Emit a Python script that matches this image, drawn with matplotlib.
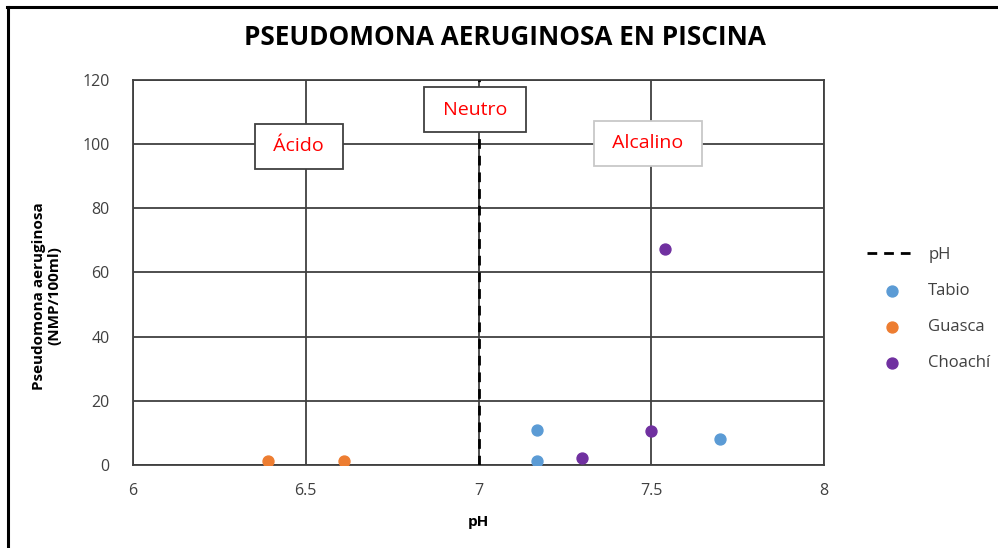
import matplotlib.pyplot as plt
from matplotlib.lines import Line2D

plt.rcParams['font.family'] = ['Open Sans', 'DejaVu Sans']

# datos
tabio_ph = [7.17, 7.17, 7.70]
tabio_pseudo = [11, 1.3, 8]
guasca_ph = [6.39, 6.61]
guasca_pseudo = [1.3, 1.3]
choachi_ph = [7.30, 7.50, 7.54]
choachi_pseudo = [2.2, 10.6, 67.3]
neutro_ph = [7, 7]
neutro_y = [0, 120]

zonas = ['Ácido', 'Neutro', 'Alcalino']
zonas_x = [6.48, 6.99, 7.49]
zonas_y = [99.3, 110.7, 100.2]
zonas_borde = ['#404040', '#404040', '#c8c8c8']

fig = plt.figure(figsize=(9.98, 5.48), dpi=100)
ax = fig.add_axes([0.1333, 0.1515, 0.6924, 0.7026])

ax.plot(neutro_ph, neutro_y, color='black', linestyle=(0, (3.5, 2.5)), linewidth=2, label='pH', zorder=3)
ax.scatter(tabio_ph, tabio_pseudo, s=62, color='#5b9bd5', label='Tabio', zorder=4)
ax.scatter(guasca_ph, guasca_pseudo, s=62, color='#ed7d31', label='Guasca', zorder=4)
ax.scatter(choachi_ph, choachi_pseudo, s=62, color='#7030a0', label='Choachí', zorder=4)

for txt, x, y, c in zip(zonas, zonas_x, zonas_y, zonas_borde):
    ax.text(x, y, ' ' + txt + ' ', color='red', fontsize=14, ha='center', va='center', zorder=5,
            bbox=dict(boxstyle='square,pad=0.7', facecolor='white', edgecolor=c, linewidth=1.3))

ax.set_xlim(6, 8)
ax.set_ylim(0, 120)
ax.set_xticks([6, 6.5, 7, 7.5, 8])
ax.set_xticklabels(['6', '6.5', '7', '7.5', '8'])
ax.set_yticks(range(0, 121, 20))
ax.grid(True, color='#404040', linewidth=1.3)
ax.set_axisbelow(True)
for s in ax.spines.values():
    s.set_color('#404040')
    s.set_linewidth(1.3)
ax.tick_params(length=0, labelsize=11.5, colors='#404040')
ax.tick_params(axis='y', pad=17)
ax.tick_params(axis='x', pad=13)

ax.set_xlabel('pH', fontsize=11, fontweight='bold', va='center')
ax.xaxis.set_label_coords(0.5, -0.148)
ax.set_ylabel('Pseudomona aeruginosa\n(NMP/100ml)', fontsize=11, fontweight='bold', va='center')
ax.yaxis.set_label_coords(-0.125, 0.439)

fig.text(0.506, 0.932, 'PSEUDOMONA AERUGINOSA EN PISCINA', fontsize=18.8, fontweight='bold',
         ha='center', va='center')

ax.legend(loc='center left', bbox_to_anchor=(1.04, 0.405), frameon=False, fontsize=12,
          labelspacing=1.2, handlelength=3.0, handletextpad=0.7, labelcolor='#404040')

# marco de la figura
fig.add_artist(Line2D([7 / 998, 1], [1 - 6.5 / 548, 1 - 6.5 / 548], color='black', linewidth=2.2))
fig.add_artist(Line2D([7.5 / 998, 7.5 / 998], [0, 1 - 6.5 / 548], color='black', linewidth=2.2))

fig.savefig('out.png', dpi=100)
